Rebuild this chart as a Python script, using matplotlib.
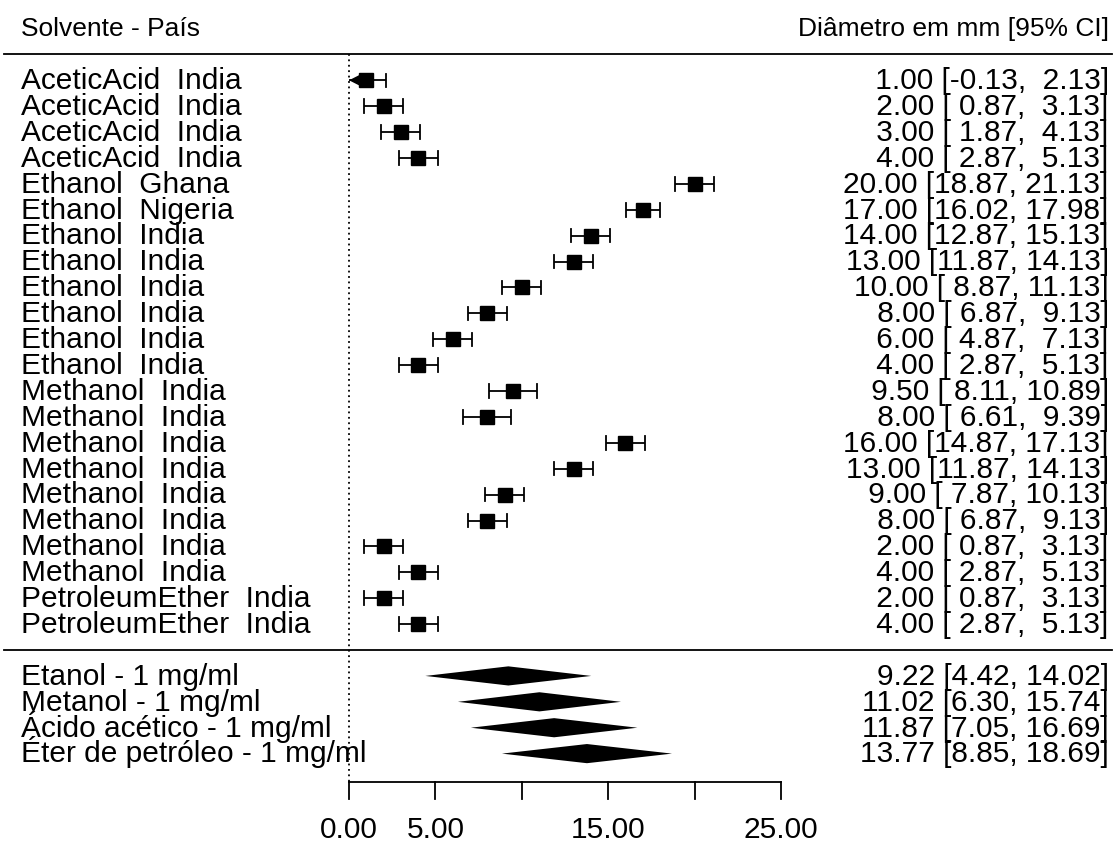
import matplotlib
matplotlib.use("Agg")
import matplotlib.pyplot as plt

plt.rcParams['font.family'] = ['Liberation Sans', 'DejaVu Sans']

# ---------------- data ----------------
study_labels = [
    "AceticAcid  India", "AceticAcid  India", "AceticAcid  India", "AceticAcid  India",
    "Ethanol  Ghana", "Ethanol  Nigeria", "Ethanol  India", "Ethanol  India",
    "Ethanol  India", "Ethanol  India", "Ethanol  India", "Ethanol  India",
    "Methanol  India", "Methanol  India", "Methanol  India", "Methanol  India",
    "Methanol  India", "Methanol  India", "Methanol  India", "Methanol  India",
    "PetroleumEther  India", "PetroleumEther  India",
]
study_est = [1.00, 2.00, 3.00, 4.00, 20.00, 17.00, 14.00, 13.00, 10.00, 8.00, 6.00, 4.00,
             9.50, 8.00, 16.00, 13.00, 9.00, 8.00, 2.00, 4.00, 2.00, 4.00]
study_lo = [-0.13, 0.87, 1.87, 2.87, 18.87, 16.02, 12.87, 11.87, 8.87, 6.87, 4.87, 2.87,
            8.11, 6.61, 14.87, 11.87, 7.87, 6.87, 0.87, 2.87, 0.87, 2.87]
study_hi = [2.13, 3.13, 4.13, 5.13, 21.13, 17.98, 15.13, 14.13, 11.13, 9.13, 7.13, 5.13,
            10.89, 9.39, 17.13, 14.13, 10.13, 9.13, 3.13, 5.13, 3.13, 5.13]

summary_labels = ["Etanol - 1 mg/ml", "Metanol - 1 mg/ml", "Ácido acético - 1 mg/ml",
                  "Éter de petróleo - 1 mg/ml"]
summary_est = [9.22, 11.02, 11.87, 13.77]
summary_lo = [4.42, 6.30, 7.05, 8.85]
summary_hi = [14.02, 15.74, 16.69, 18.69]

axis_ticks = [0, 5, 10, 15, 20, 25]
axis_ticklabels = ["0.00", "5.00", "", "15.00", "", "25.00"]

header_left = "Solvente - País"
header_right = "Diâmetro em mm [95% CI]"

# ---------------- layout ----------------
fig = plt.figure(figsize=(11.16, 8.44), dpi=100)
ax = fig.add_axes([0, 0, 1, 1])
XMIN, XMAX = -20.2, 44.39
YMIN, YMAX = -7.49, 25.10
ax.set_xlim(XMIN, XMAX)
ax.set_ylim(YMIN, YMAX)
ax.axis('off')

k = len(study_est)
rows = [k - i for i in range(k)]          # k .. 1
srows = [-(i + 1) for i in range(len(summary_est))]

x_text_left = -19.0
x_text_right = 43.97
fs = 21.5
base_off = 0.34       # baseline offset in row units
hfs = 19
hbase_off = 0.30
lw = 1.3
clip_lo = 0.0

# header
ax.text(x_text_left, 24 - hbase_off, header_left, fontsize=hfs, ha='left', va='baseline')
ax.text(x_text_right, 24 - hbase_off, header_right, fontsize=hfs, ha='right', va='baseline')

# horizontal rules
ax.plot([-19.97, 44.16], [23, 23], color='black', lw=1.3)
ax.plot([-19.97, 44.16], [0, 0], color='black', lw=1.3)

# reference line
ax.plot([0, 0], [23, -5.09], color='black', lw=1.3, linestyle=(0, (1, 2)))

cap = 0.26
for y, lab, e, lo, hi in zip(rows, study_labels, study_est, study_lo, study_hi):
    ax.text(x_text_left, y - base_off, lab, fontsize=fs, ha='left', va='baseline')
    ax.text(x_text_right, y - base_off, "{:5.2f} [{:5.2f}, {:5.2f}]".format(e, lo, hi),
            fontsize=fs, ha='right', va='baseline')
    lo_d = max(lo, clip_lo)
    ax.plot([lo_d, hi], [y, y], color='black', lw=lw, solid_capstyle='butt')
    ax.plot([hi, hi], [y - cap, y + cap], color='black', lw=lw)
    if lo < clip_lo:
        ax.fill([clip_lo, clip_lo + 0.65, clip_lo + 0.65], [y, y + 0.22, y - 0.22],
                color='black', lw=0)
    else:
        ax.plot([lo, lo], [y - cap, y + cap], color='black', lw=lw)
    ax.plot([e], [y], marker='s', color='black', markersize=10.2, linestyle='none')

dh = 0.37
for y, lab, e, lo, hi in zip(srows, summary_labels, summary_est, summary_lo, summary_hi):
    ax.text(x_text_left, y - base_off, lab, fontsize=fs, ha='left', va='baseline')
    ax.text(x_text_right, y - base_off, "{:.2f} [{:.2f}, {:.2f}]".format(e, lo, hi),
            fontsize=fs, ha='right', va='baseline')
    ax.fill([lo, e, hi, e], [y, y + dh, y, y - dh], color='black', lw=0)

# x axis
ax_y = -5.09
tick_len = 0.65
ax.plot([axis_ticks[0], axis_ticks[-1]], [ax_y, ax_y], color='black', lw=1.3)
for t, tl in zip(axis_ticks, axis_ticklabels):
    ax.plot([t, t], [ax_y, ax_y - tick_len], color='black', lw=1.3)
    if tl:
        ax.text(t, -6.86 - 0.41, tl, fontsize=fs, ha='center', va='baseline')

fig.savefig("out.png", dpi=100)
